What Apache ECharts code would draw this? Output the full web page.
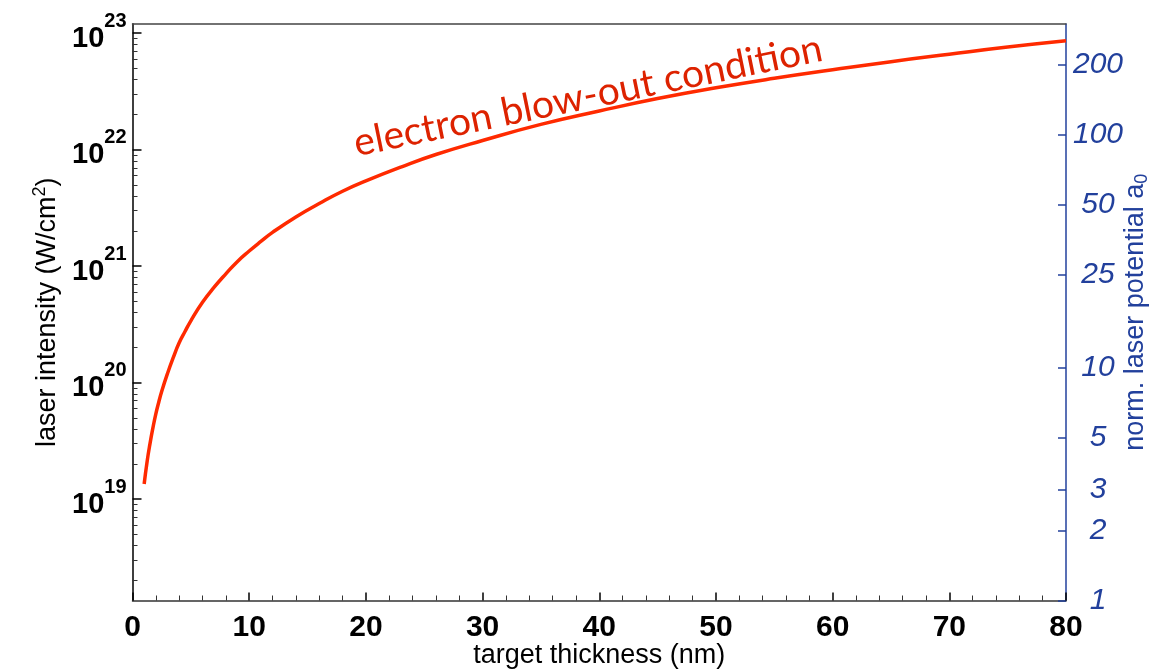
<!DOCTYPE html>
<html>
<head>
<meta charset="utf-8">
<script src="https://cdn.jsdelivr.net/npm/echarts@6/dist/echarts.min.js"></script>
<style>
html,body{margin:0;padding:0;background:#fff;}
#chart{width:1159px;height:670px;}
</style>
</head>
<body>
<div id="chart"></div>
<script>
// ---- data ----
const thickness = [1, 1.25, 1.5, 1.75, 2, 2.25, 2.5, 3, 3.5, 4, 4.5, 5, 6, 7, 8, 9, 10, 11, 12, 14, 16, 18, 20, 23, 26, 30, 35, 40, 45, 50, 55, 60, 65, 70, 75, 80];
const intensity = [1.35e19, 2.1e19, 3.0e19, 4.1e19, 5.4e19, 6.8e19, 8.4e19, 1.2e20, 1.65e20, 2.2e20, 2.75e20, 3.4e20, 4.9e20, 6.6e20, 8.6e20, 1.1e21, 1.35e21, 1.63e21, 1.95e21, 2.65e21, 3.45e21, 4.4e21, 5.4e21, 7.1e21, 9.1e21, 1.2e22, 1.65e22, 2.15e22, 2.75e22, 3.4e22, 4.1e22, 4.85e22, 5.7e22, 6.6e22, 7.6e22, 8.6e22];
const xTicks = [0, 10, 20, 30, 40, 50, 60, 70, 80];
const intensityMajor = [1e19, 1e20, 1e21, 1e22, 1e23];
const intensityMinor = [];
for (let e = 18; e <= 22; e++) for (let m = 2; m <= 9; m++) intensityMinor.push(m * Math.pow(10, e));
const a0Ticks = [1, 2, 3, 5, 10, 25, 50, 100, 200];
const I_MIN = 1.35e18;
const I_MAX = 1.2e23;
const A0_MIN = 1;
const A0_MAX = Math.sqrt(I_MAX / I_MIN);
const annotation = 'electron blow-out condition';

const BLUE = '#22409c';
const RED = '#ff2a00';
const chart = echarts.init(document.getElementById('chart'));

const seriesData = thickness.map((d, i) => [d, intensity[i]]);

chart.setOption({
  animation: false,
  grid: { left: 132.5, right: 93, top: 24, bottom: 69.5, show: false, containLabel: false, outerBoundsMode: 'none' },
  xAxis: [{
    type: 'value', min: 0, max: 80, interval: 10, position: 'bottom',
    name: 'target thickness (nm)', nameLocation: 'middle', nameGap: 42, nameMoveOverlap: false,
    nameTextStyle: { fontFamily: 'Liberation Sans', fontSize: 27, color: '#000' },
    axisLine: { show: true, lineStyle: { color: '#333', width: 1.5 } },
    axisTick: { show: true, inside: true, length: 8, lineStyle: { color: '#000', width: 1.5 } },
    minorTick: { show: true, splitNumber: 5, length: 5, lineStyle: { color: '#333', width: 1 } },
    axisLabel: { margin: 12, fontFamily: 'Liberation Sans', fontWeight: 'bold', fontSize: 30, color: '#000' },
    splitLine: { show: false }
  }, {
    type: 'value', min: 0, max: 80, position: 'top',
    axisLine: { show: true, lineStyle: { color: '#444', width: 1.5 } },
    axisTick: { show: false }, axisLabel: { show: false }, splitLine: { show: false }
  }],
  yAxis: [{
    type: 'log', logBase: 10, min: I_MIN, max: I_MAX, position: 'left',
    name: '{n|laser intensity (W/cm}{sup|2}{n|)}', nameLocation: 'middle', nameGap: 71, nameRotate: 90, nameMoveOverlap: false,
    nameTextStyle: {
      color: '#000',
      rich: {
        n: { fontFamily: 'Liberation Sans', fontSize: 27, color: '#000', lineHeight: 30, verticalAlign: 'bottom' },
        sup: { fontFamily: 'Liberation Sans', fontSize: 18, color: '#000', lineHeight: 18, verticalAlign: 'top' }
      }
    },
    axisLine: { show: true, lineStyle: { color: '#333', width: 1.5 } },
    axisTick: { show: true, inside: true, length: 9, customValues: intensityMajor, lineStyle: { color: '#000', width: 1.5 } },
    axisLabel: {
      customValues: intensityMajor, margin: 6,
      formatter: v => '{b|10}{s|' + Math.round(Math.log10(v)) + '}',
      rich: {
        b: { fontFamily: 'Liberation Sans', fontWeight: 'bold', fontSize: 29, color: '#000', lineHeight: 44, verticalAlign: 'bottom', padding: [0, 0, 2, 0] },
        s: { fontFamily: 'Liberation Sans', fontWeight: 'bold', fontSize: 20, color: '#000', lineHeight: 20, verticalAlign: 'top' }
      }
    },
    splitLine: { show: false }
  }, {
    type: 'log', logBase: 10, min: I_MIN, max: I_MAX, position: 'left',
    axisLine: { show: true, lineStyle: { color: '#333', width: 1.5 } },
    axisTick: { show: true, inside: true, length: 5, customValues: intensityMinor, lineStyle: { color: '#333', width: 1 } },
    axisLabel: { show: false }, splitLine: { show: false }
  }, {
    type: 'log', logBase: 10, min: A0_MIN, max: A0_MAX, position: 'right',
    name: '{n|norm. laser potential a}{sub|0}', nameLocation: 'middle', nameGap: 55, nameRotate: 90, nameMoveOverlap: false,
    nameTextStyle: {
      color: BLUE,
      rich: {
        n: { fontFamily: 'Liberation Sans', fontSize: 27, color: BLUE, lineHeight: 30 },
        sub: { fontFamily: 'Liberation Sans', fontSize: 18, color: BLUE, lineHeight: 18, verticalAlign: 'bottom' }
      }
    },
    axisLine: { show: true, lineStyle: { color: BLUE, width: 1.5 } },
    axisTick: { show: true, inside: true, length: 8, customValues: a0Ticks, lineStyle: { color: BLUE, width: 1.5 } },
    axisLabel: {
      customValues: a0Ticks, margin: 32, align: 'center',
      fontFamily: 'Liberation Sans', fontStyle: 'italic', fontSize: 30, color: BLUE
    },
    splitLine: { show: false }
  }],
  series: [{
    type: 'line', xAxisIndex: 0, yAxisIndex: 0,
    data: seriesData, showSymbol: false, smooth: true,
    lineStyle: { color: RED, width: 3.5 }
  }],
  graphic: [{
    type: 'text', x: 588, y: 96, rotation: 11.6 * Math.PI / 180,
    style: { text: annotation, fill: '#dd2200', fontFamily: 'Lato', fontSize: 39, align: 'center', verticalAlign: 'middle' }
  }]
});
</script>
</body>
</html>
